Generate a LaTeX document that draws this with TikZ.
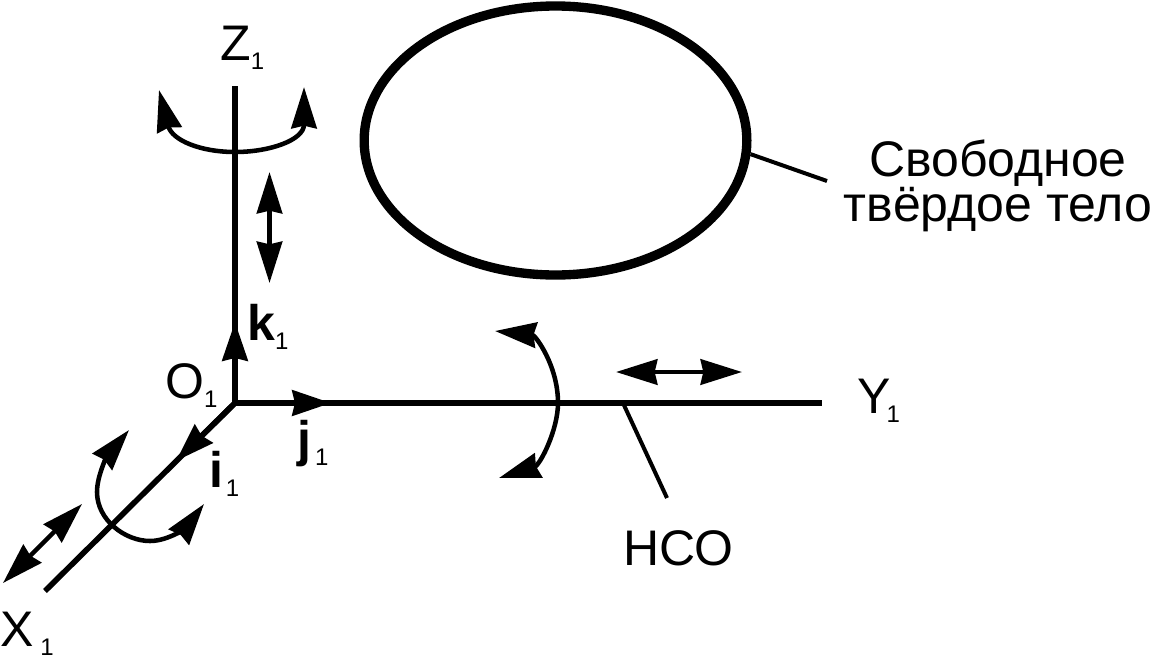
\documentclass[tikz,border=0pt]{standalone}
\usepackage{fontspec}
\setmainfont{Liberation Sans}
\usetikzlibrary{arrows.meta,shapes.geometric}

\newcommand{\subone}{\raisebox{-6.75pt}{\fontsize{18pt}{20pt}\selectfont\mdseries 1}}

\tikzset{
  axisline/.style={line width=4.2pt},
  thinarc/.style={line width=3.4pt},
  leader/.style={line width=3pt},
  headend/.style={-{Stealth[length=29pt,width=19pt,inset=2pt]}},
  headboth/.style={{Stealth[length=31pt,width=19pt,inset=2pt]}-{Stealth[length=31pt,width=19pt,inset=2pt]}},
  lbl/.style={anchor=base west,inner sep=0pt,font=\fontsize{37.5pt}{34pt}\selectfont},
  boldlbl/.style={lbl,font=\fontsize{37.5pt}{34pt}\selectfont\bfseries}
}

\begin{document}
\begin{tikzpicture}[x=0.75pt,y=0.75pt,yscale=-1,xscale=1]
\useasboundingbox (0,0) rectangle (1152,657);

%Axis points
\coordinate (origin) at (235,403);
\coordinate (ztop) at (235,86);
\coordinate (yend) at (822,403);
\coordinate (xend) at (45,591);
\coordinate (ktip) at (235,322);
\coordinate (jtip) at (331,403);
\coordinate (itip) at (176,461);

%Straight Lines
\draw [axisline] (origin) -- (ztop) ;
\draw [axisline] (origin) -- (yend) ;
\draw [axisline] (origin) -- (xend) ;
%Unit vectors
\draw [axisline,headend] (origin) -- (ktip) ;
\draw [axisline,headend] (origin) -- (jtip) ;
\draw [axisline,headend] (origin) -- (itip) ;

%Shift arrows
\coordinate (zsa) at (269.5,172);
\coordinate (zsb) at (269.5,283);
\coordinate (ysa) at (616,372);
\coordinate (ysb) at (742,372);
\coordinate (xsa) at (82,504);
\coordinate (xsb) at (3,583);
\draw [thinarc,headboth] (zsa) -- (zsb) ;
\draw [thinarc,headboth] (ysa) -- (ysb) ;
\draw [thinarc,headboth] (xsa) -- (xsb) ;

%Turn arrows
\draw [thinarc,headboth] (159,90) .. controls (172,140) and (200,152) .. (235,152) .. controls (270,152) and (304,140) .. (304,87) ;
\draw [thinarc,headboth] (495,331) .. controls (535,335) and (558,365) .. (558,403) .. controls (558,430) and (540,465) .. (499,478) ;
\draw [thinarc,headboth] (129,430) .. controls (108,455) and (97,475) .. (97,492) .. controls (97,520) and (125,541) .. (150,541) .. controls (170,541) and (188,525) .. (204,504) ;

%Body
\node [draw,ellipse,line width=7pt,inner sep=0pt,minimum width=287pt,minimum height=201.75pt] (body) at (555.5,140.5) {};
\coordinate (bodyend) at (827,181);
\draw [leader] (body.-4.4) -- (bodyend) ;

%HCO leader
\coordinate (hcoa) at (623,403);
\coordinate (hcob) at (667,498);
\draw [leader] (hcoa) -- (hcob) ;

% Text Node
\node [lbl] (zlab) at (220,60) {Z\subone};
\node [lbl] (ylab) at (857,413) {Y\kern-3pt\subone};
\node [lbl] (xlab) at (0,646) {X\kern5pt\subone};
\node [lbl] (olab) at (165,398) {O\subone};
\node [boldlbl] (klab) at (247,340) {k\subone};
\node [boldlbl] (jlab) at (297,456) {j\kern3pt\subone};
\node [boldlbl] (ilab) at (209,487) {i\kern2pt\subone};
\node [lbl] (hcolab) at (623,565) {НСО};
\node [lbl,anchor=center,align=center] (bodylab) at (998,186) {Свободное\\твёрдое тело};

\end{tikzpicture}
\end{document}
